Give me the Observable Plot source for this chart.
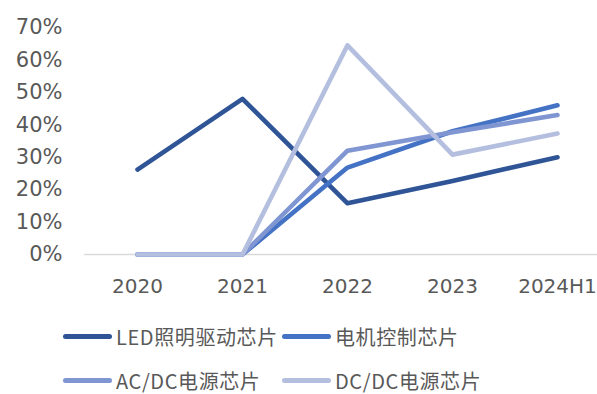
<!DOCTYPE html>
<html>
<head>
<meta charset="utf-8">
<script src="https://cdn.jsdelivr.net/npm/d3@7"></script>
<script src="https://cdn.jsdelivr.net/npm/@observablehq/plot@0.6"></script>
<style>
  html, body { margin: 0; padding: 0; background: #fff; overflow: hidden; width: 597px; height: 394px; }
  #chart svg { display: block; }
  #legend { position: relative; height: 94px; font-family: "Noto Sans CJK SC", sans-serif; font-size: 20px; color: #595959; letter-spacing: 0.6px; }
  .item { position: absolute; display: flex; align-items: center; height: 30px; }
  .sw { width: 49px; height: 5px; border-radius: 3px; margin-right: 4px; }
</style>
</head>
<body>
<div id="chart"></div>
<div id="legend"></div>
<script>
const years = ["2020", "2021", "2022", "2023", "2024H1"];
const seriesNames = ["LED照明驱动芯片", "电机控制芯片", "AC/DC电源芯片", "DC/DC电源芯片"];
const ledValues = [26.2, 48.0, 15.8, 22.7, 30.0];
const motorValues = [0, 0, 26.8, 38.0, 46.0];
const acdcValues = [0, 0, 32.0, 37.7, 43.0];
const dcdcValues = [0, 0, 64.5, 30.8, 37.3];
const yTicks = [0, 10, 20, 30, 40, 50, 60, 70];
const colors = ["#2F5597", "#4472C4", "#7F96D2", "#B4BFE0"];

const allValues = [ledValues, motorValues, acdcValues, dcdcValues];
const data = [];
allValues.forEach((vals, si) => {
  vals.forEach((v, i) => data.push({series: seriesNames[si], year: years[i], value: v}));
});

const plot = Plot.plot({
  width: 597,
  height: 300,
  marginLeft: 84,
  marginRight: -12,
  marginTop: 27,
  marginBottom: 46,
  style: {fontFamily: "DejaVu Sans", fontSize: "20px", color: "#595959", background: "#fff"},
  x: {type: "point", domain: years, padding: 0.5, label: null},
  y: {domain: [0, 70], label: null},
  color: {domain: seriesNames, range: colors},
  marks: [
    Plot.ruleY([0], {stroke: "#d9d9d9", strokeWidth: 1.5}),
    Plot.axisX({tickSize: 0, tickPadding: 24, label: null, fill: "#595959", fontSize: 20}),
    Plot.axisY({ticks: yTicks, tickSize: 0, tickPadding: 22, tickFormat: d => d + "%", label: null, fill: "#595959", fontSize: 21}),
    Plot.line(data, {x: "year", y: "value", z: "series", stroke: "series", strokeWidth: 4.6, strokeLinejoin: "round", strokeLinecap: "round"})
  ]
});
document.getElementById("chart").appendChild(plot);

const legend = document.getElementById("legend");
const positions = [[63, 21], [282, 21], [63, 65], [282, 65]];
seriesNames.forEach((name, i) => {
  const item = document.createElement("div");
  item.className = "item";
  item.style.left = positions[i][0] + "px";
  item.style.top = positions[i][1] + "px";
  const sw = document.createElement("div");
  sw.className = "sw";
  sw.style.background = colors[i];
  const label = document.createElement("span");
  label.textContent = name;
  item.appendChild(sw);
  item.appendChild(label);
  legend.appendChild(item);
});
</script>
</body>
</html>
